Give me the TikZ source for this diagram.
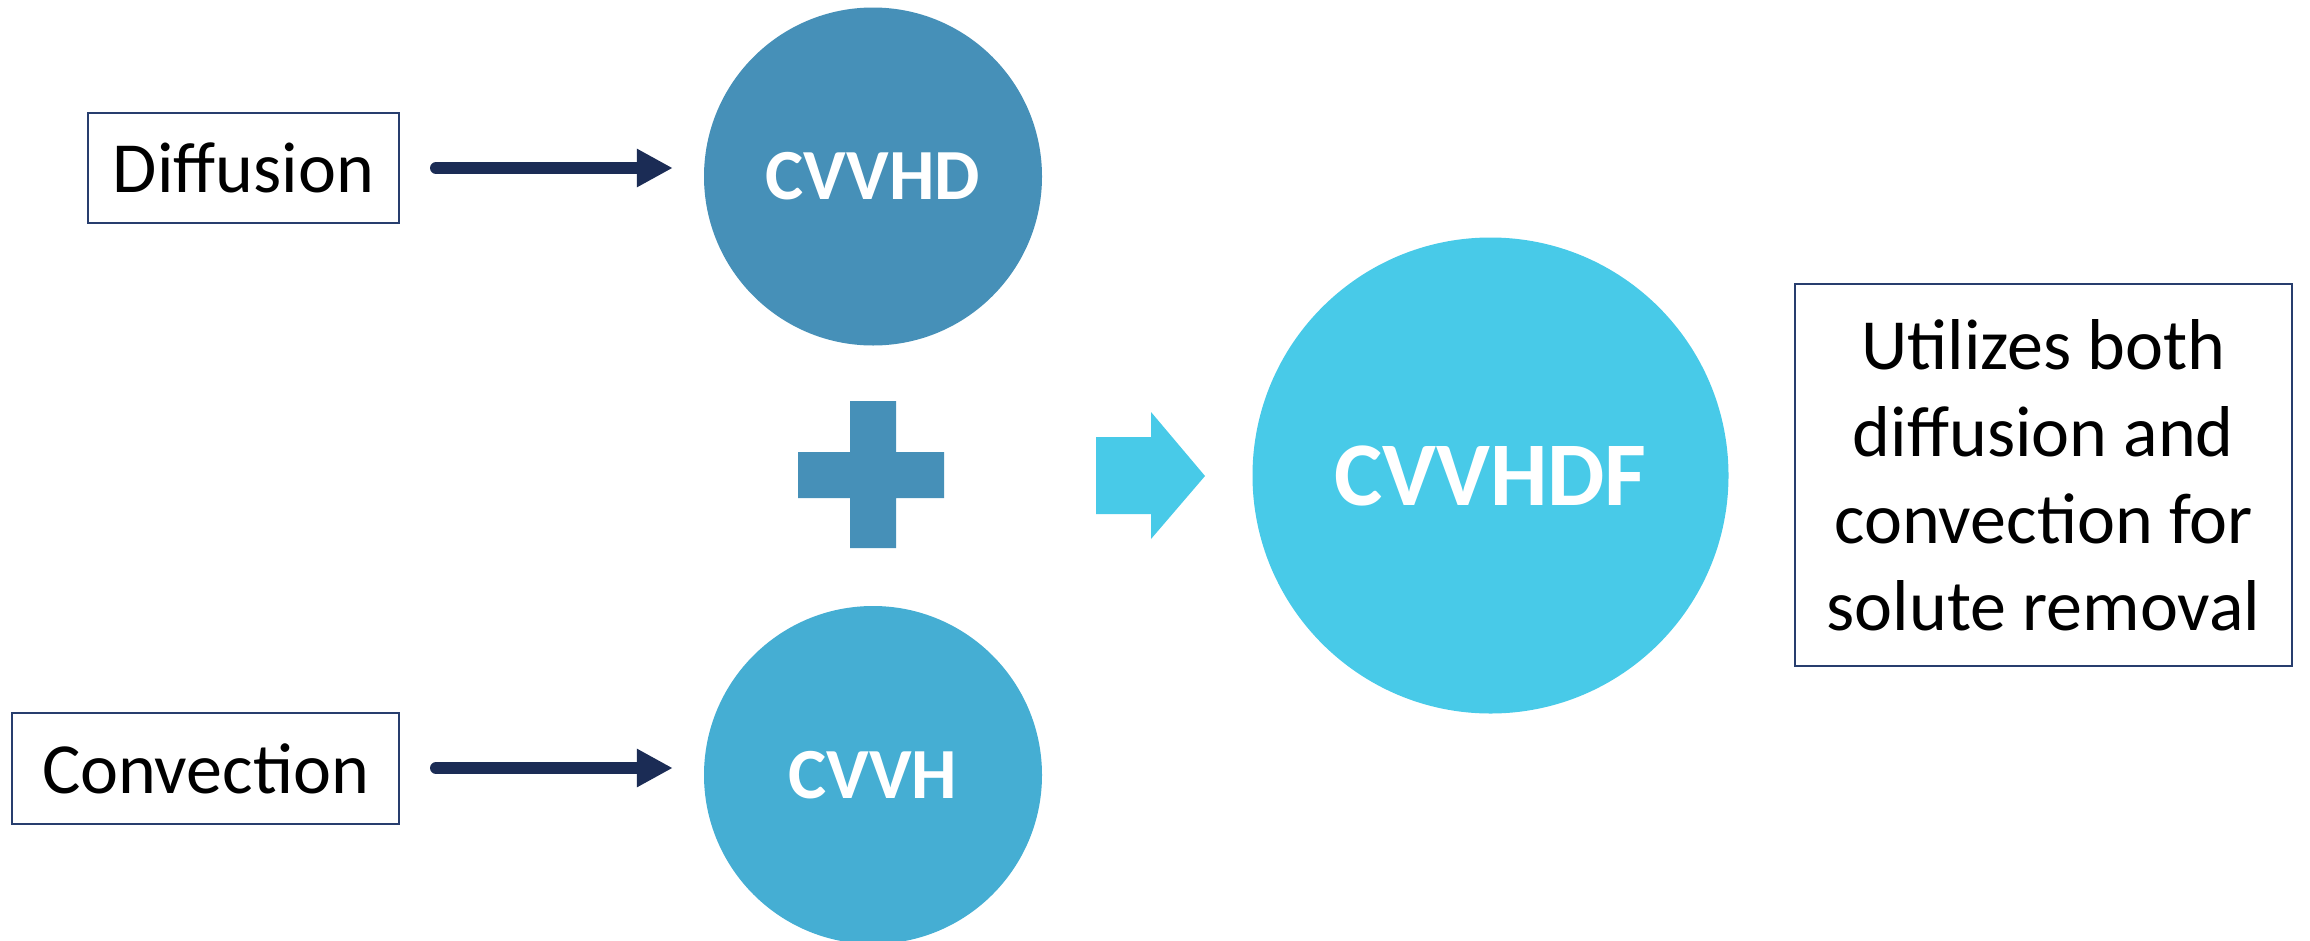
\documentclass[tikz,border=0pt]{standalone}
\usepackage{fontspec}
\setmainfont{Carlito}
\usetikzlibrary{arrows.meta}
\definecolor{cvvhd}{RGB}{70,144,184}
\definecolor{cvvh}{RGB}{69,174,211}
\definecolor{cvvhdf}{RGB}{72,202,232}
\definecolor{navy}{RGB}{27,44,85}
\definecolor{boxline}{RGB}{40,62,110}
\tikzset{
  labelbox/.style={draw=boxline, line width=2pt, fill=white, inner sep=0pt, align=center, font=\fontsize{72}{87}\selectfont},
  bubble/.style={circle, inner sep=0pt, text=white, font=\bfseries\fontsize{72}{86}\selectfont},
  feed/.style={draw=navy, line width=12pt, line cap=round, -{Triangle[length=36pt,width=36pt]}},
}
\begin{document}
\begin{tikzpicture}[x=1pt,y=-1pt]
\clip (0,0) rectangle (2310,940);
\useasboundingbox (0,0) rectangle (2310,940);
\fill[white] (0,0) rectangle (2310,940);

\node[labelbox, minimum width=311pt, minimum height=110pt] (diff) at (243.5,167.5) {Diffusion};
\node[labelbox, minimum width=387pt, minimum height=111pt] (conv) at (205.5,768.5) {Convection};

\node[bubble, fill=cvvhd, minimum size=338pt] (hd) at (873,176.5) {CVVHD};
\node[bubble, fill=cvvh, minimum size=338pt] (h) at (873,775) {CVVH};
\node[bubble, fill=cvvhdf, minimum size=476pt, font=\bfseries\fontsize{91}{100}\selectfont] (hdf) at (1490.5,475.5) {CVVHDF};

\node[labelbox, minimum width=497pt, minimum height=382pt] (note) at (2043.5,475) {Utilizes both\\diffusion and\\convection for\\solute removal};

\draw[feed, shorten <=36pt, shorten >=31pt] (diff.east |- 0,168) -- (hd.west |- 0,168);
\draw[feed, shorten <=36pt, shorten >=31pt] (conv.east |- 0,768) -- (h.west |- 0,768);

% plus sign
\fill[cvvhd] (850,401) -- (896,401) -- (896,452) -- (944,452) -- (944,498) -- (896,498) -- (896,548) -- (850,548) -- (850,498) -- (798,498) -- (798,452) -- (850,452) -- cycle;

% block arrow
\fill[cvvhdf] (1096,437) -- (1151,437) -- (1151,412) -- (1205,476) -- (1151,539) -- (1151,514) -- (1096,514) -- cycle;
\end{tikzpicture}
\end{document}
